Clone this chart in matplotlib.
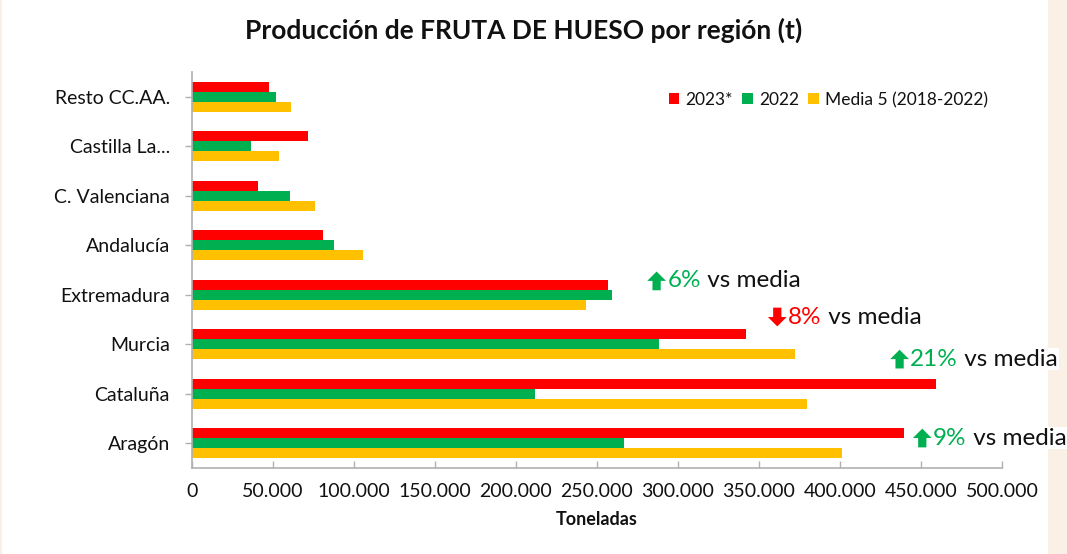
import matplotlib
matplotlib.use("Agg")
import matplotlib.pyplot as plt
from matplotlib.patches import Rectangle, Patch, Polygon
from matplotlib.offsetbox import TextArea, HPacker, AnnotationBbox, DrawingArea
from matplotlib.ticker import FuncFormatter, MultipleLocator

# ---------------- data ----------------
regions = ["Aragón", "Cataluña", "Murcia", "Extremadura", "Andalucía",
           "C. Valenciana", "Castilla La...", "Resto CC.AA."]
prod_2023 = [439500, 459000, 341800, 257000, 80700, 40700, 71600, 47500]
prod_2022 = [266700, 212000, 288000, 259000, 87500, 60500, 36400, 52000]
media5 = [401400, 379400, 372000, 243000, 105400, 76000, 53700, 61000]
series_names = ["2023*", "2022", "Media 5 (2018-2022)"]
colors = ["#FF0000", "#00B050", "#FFC000"]

# annotations: (region index, direction, pct text, colour, x position, y offset)
ann_region = [3, 2, 1, 0]
ann_up = [True, False, True, True]
ann_pct = ["6%", "8%", "21%", "9%"]
ann_color = ["#00B050", "#FF0000", "#00B050", "#00B050"]
ann_x = [281000, 355500, 431000, 445000]
ann_dy = [0.28, 0.55, 0.70, 0.106]

title = "Producción de FRUTA DE HUESO por región (t)"
xlabel = "Toneladas"

plt.rcParams['font.family'] = ['Lato', 'DejaVu Sans']
txt = "#111111"
axcol = "#B0B0B0"

fig = plt.figure(figsize=(10.67, 5.54), dpi=100)
fig.patch.set_facecolor("white")
# beige border stripes
fig.add_artist(Rectangle((1048 / 1067, 0), 1 - 1048 / 1067, 1, transform=fig.transFigure,
                         facecolor="#FBF0E6", edgecolor="none", zorder=0))
fig.add_artist(Rectangle((0, 0), 2 / 1067, 1, transform=fig.transFigure,
                         facecolor="#FBF0E6", edgecolor="none", zorder=0))

ax = fig.add_axes([192 / 1067, 86 / 554, 810 / 1067, 396 / 554])
ax.set_facecolor("none")

h = 0.202
idx = list(range(len(regions)))
offs = [h, 0, -h]
for vals, off, c in zip([prod_2023, prod_2022, media5], offs, colors):
    ax.barh([i + off for i in idx], vals, height=h, color=c, edgecolor="none", zorder=2)

ax.set_xlim(0, 500000)
ax.set_ylim(-0.5, 7.5)
ax.set_yticks(idx)
ax.set_yticklabels(regions)
ax.xaxis.set_major_locator(MultipleLocator(50000))
ax.xaxis.set_major_formatter(FuncFormatter(lambda v, p: "0" if v == 0 else f"{int(v):,}".replace(",", ".")))

for s in ["top", "right"]:
    ax.spines[s].set_visible(False)
for s in ["left", "bottom"]:
    ax.spines[s].set_color(axcol)
    ax.spines[s].set_linewidth(1.2)

ax.tick_params(axis="x", direction="in", length=5, width=1, color=axcol,
               labelsize=14, labelcolor=txt, pad=11)
ax.tick_params(axis="y", direction="out", length=5, width=1, color=axcol,
               labelsize=14, labelcolor=txt, pad=11)

ax.set_xlabel(xlabel, fontsize=13, fontweight="bold", color=txt, labelpad=8)
fig.text(524 / 1067, 1 - 30 / 554, title, ha="center", va="center",
         fontsize=19, fontweight="bold", color=txt)

handles = [Patch(facecolor=c, edgecolor="none") for c in colors]
ax.legend(handles, series_names, loc="center left", bbox_to_anchor=((669 - 192) / 810, (468 - 100) / 396),
          ncol=3, frameon=False, fontsize=12.5, handlelength=0.6, handleheight=0.6,
          handletextpad=0.35, columnspacing=0.55, borderpad=0, borderaxespad=0,
          labelcolor=txt)


def arrow_area(up, color):
    w = 13.5
    da = DrawingArea(w + 1, w, 0, 0)
    s = w / 2
    if up:
        pts = [(0, s), (s, w), (w, s), (w * 0.72, s), (w * 0.72, 0), (w * 0.28, 0), (w * 0.28, s)]
    else:
        pts = [(0, s), (s, 0), (w, s), (w * 0.72, s), (w * 0.72, w), (w * 0.28, w), (w * 0.28, s)]
    da.add_artist(Polygon(pts, closed=True, facecolor=color, edgecolor="none"))
    return da


for r, up, p, c, x, dy in zip(ann_region, ann_up, ann_pct, ann_color, ann_x, ann_dy):
    parts = [arrow_area(up, c),
             TextArea(p, textprops=dict(color=c, fontsize=17.5)),
             TextArea(" vs media", textprops=dict(color=txt, fontsize=17.5))]
    box = HPacker(children=parts, align="center", pad=0, sep=0)
    ab = AnnotationBbox(box, (x, r + dy), xycoords="data", box_alignment=(0, 0.5),
                        frameon=True, pad=0.05,
                        bboxprops=dict(facecolor="white", edgecolor="none"),
                        annotation_clip=False, zorder=5)
    ax.add_artist(ab)

fig.savefig("out.png", dpi=100)
